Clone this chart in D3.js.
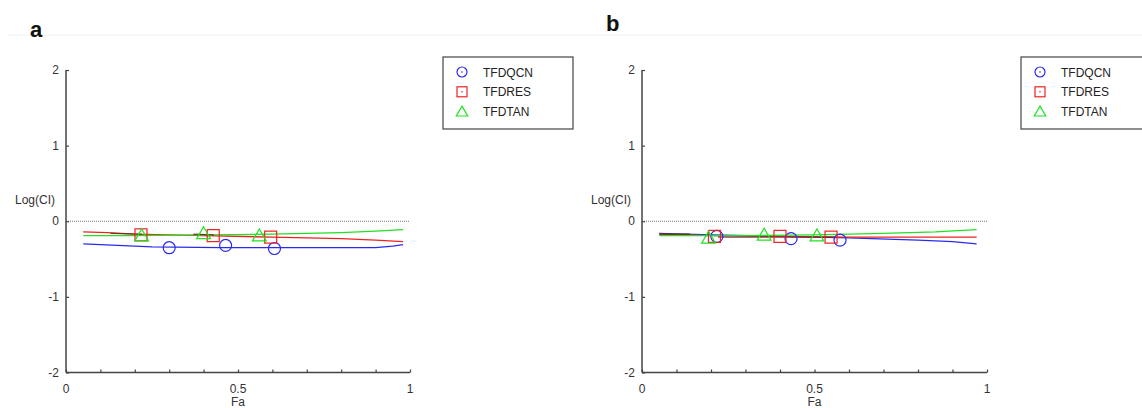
<!DOCTYPE html>
<html>
<head>
<meta charset="utf-8">
<script src="https://cdn.jsdelivr.net/npm/d3@7"></script>
<style>
  html, body { margin: 0; padding: 0; background: #fff; }
  svg { display: block; }
  text { font-family: "Liberation Sans", Arial, sans-serif; }
</style>
</head>
<body>
<svg id="chart" width="1142" height="408"></svg>
<script>
// ---- data (Fa vs log(CI)) ----
const seriesNames = ["TFDQCN", "TFDRES", "TFDTAN"];
const seriesColors = ["#2b2bf0", "#ee2222", "#22e022"];
const seriesShapes = ["circle", "square", "triangle"];

const xTicks = [0, 0.5, 1];
const yTicks = [-2, -1, 0, 1, 2];

// panel a: simulated curves
const aCurveQCN = [[0.05,-0.30],[0.10,-0.31],[0.25,-0.34],[0.45,-0.35],[0.70,-0.35],[0.90,-0.35],[0.95,-0.33],[0.98,-0.31]];
const aCurveRES = [[0.05,-0.14],[0.12,-0.15],[0.20,-0.17],[0.40,-0.19],[0.60,-0.21],[0.80,-0.23],[0.90,-0.25],[0.98,-0.27]];
const aCurveTAN = [[0.05,-0.19],[0.20,-0.19],[0.40,-0.18],[0.60,-0.17],[0.80,-0.15],[0.90,-0.13],[0.98,-0.11]];
// panel a: measured points
const aPointsQCN = [[0.30,-0.35],[0.464,-0.32],[0.606,-0.36]];
const aPointsRES = [[0.218,-0.18],[0.428,-0.19],[0.595,-0.21]];
const aPointsTAN = [[0.22,-0.19],[0.40,-0.16],[0.562,-0.19]];
// panel a: overlapping dark stretches
const aDark = [[[0.13,-0.16],[0.22,-0.17]], [[0.37,-0.17],[0.43,-0.18]]];

// panel b: simulated curves
const bCurveQCN = [[0.05,-0.16],[0.20,-0.18],[0.40,-0.20],[0.60,-0.22],[0.80,-0.25],[0.90,-0.27],[0.97,-0.30]];
const bCurveRES = [[0.05,-0.17],[0.20,-0.19],[0.40,-0.20],[0.60,-0.21],[0.97,-0.21]];
const bCurveTAN = [[0.05,-0.19],[0.30,-0.19],[0.50,-0.18],[0.70,-0.16],[0.85,-0.14],[0.97,-0.11]];
// panel b: measured points
const bPointsQCN = [[0.217,-0.20],[0.432,-0.23],[0.574,-0.25]];
const bPointsRES = [[0.21,-0.20],[0.40,-0.20],[0.548,-0.21]];
const bPointsTAN = [[0.193,-0.22],[0.354,-0.18],[0.507,-0.19]];
// panel b: overlapping dark stretches
const bDark = [[[0.05,-0.17],[0.14,-0.17]], [[0.22,-0.21],[0.56,-0.21]]];

const panels = [
  { label: "a", left: 66, right: 410, labelX: 30, labelY: 37, legendX: 443, legendW: 130,
    curves: [aCurveQCN, aCurveRES, aCurveTAN], points: [aPointsQCN, aPointsRES, aPointsTAN], dark: aDark },
  { label: "b", left: 642, right: 987, labelX: 606, labelY: 31, legendX: 1021, legendW: 130,
    curves: [bCurveQCN, bCurveRES, bCurveTAN], points: [bPointsQCN, bPointsRES, bPointsTAN], dark: bDark }
];

const svg = d3.select("#chart");
const plotTop = 70, plotBottom = 372.5;
const axisColor = "#444";
const textColor = "#333";

// faint frame line under the panel letters
svg.append("line").attr("x1", 8).attr("x2", 1142).attr("y1", 35).attr("y2", 35)
  .attr("stroke", "#f2f2f2").attr("stroke-width", 1);

function drawMarker(g, shape, color, cx, cy, r, dot) {
  if (shape === "circle") {
    g.append("circle").attr("cx", cx).attr("cy", cy).attr("r", r)
      .attr("fill", "none").attr("stroke", color).attr("stroke-width", 1.2);
  } else if (shape === "square") {
    g.append("rect").attr("x", cx - r).attr("y", cy - r).attr("width", 2 * r).attr("height", 2 * r)
      .attr("fill", "none").attr("stroke", color).attr("stroke-width", 1.2);
  } else {
    const h = r * 1.1;
    g.append("path")
      .attr("d", `M${cx},${cy - h}L${cx + r * 1.15},${cy + h * 0.8}L${cx - r * 1.15},${cy + h * 0.8}Z`)
      .attr("fill", "none").attr("stroke", color).attr("stroke-width", 1.2);
  }
  if (dot && shape !== "triangle") {
    g.append("circle").attr("cx", cx).attr("cy", cy).attr("r", 0.8).attr("fill", color);
  }
}

panels.forEach(p => {
  const g = svg.append("g");
  const x = d3.scaleLinear().domain([0, 1]).range([p.left, p.right]);
  const y = d3.scaleLinear().domain([-2, 2]).range([plotBottom, plotTop]);

  // panel letter
  svg.append("text").attr("x", p.labelX).attr("y", p.labelY)
    .attr("font-family", "'Open Sans', 'Liberation Sans', sans-serif")
    .attr("font-weight", "bold").attr("font-size", 22).attr("fill", "#111").text(p.label);

  // reference line at log(CI) = 0
  g.append("line").attr("x1", x(0)).attr("x2", x(1)).attr("y1", y(0)).attr("y2", y(0))
    .attr("stroke", "#777").attr("stroke-width", 1).attr("stroke-dasharray", "1,1");

  // x axis with inward ticks
  const xAxis = d3.axisTop(x).tickValues(d3.range(0, 1.0001, 0.1)).tickSize(3).tickFormat("");
  const xa = g.append("g").attr("transform", `translate(0,${y(-2)})`).call(xAxis);
  xa.select(".domain").attr("d", `M${x(0)},0H${x(1)}`).attr("stroke", axisColor).attr("stroke-width", 1.5);
  xa.selectAll(".tick line").attr("stroke", axisColor).attr("stroke-width", 1.2);
  g.selectAll(".xlab").data(xTicks).enter().append("text")
    .attr("x", d => x(d)).attr("y", plotBottom + 20).attr("text-anchor", "middle")
    .attr("font-size", 12).attr("fill", textColor).text(d => d);
  g.append("text").attr("x", x(0.5)).attr("y", plotBottom + 33).attr("text-anchor", "middle")
    .attr("font-size", 12).attr("fill", textColor).text("Fa");

  // y axis with inward ticks
  const yAxis = d3.axisRight(y).tickValues(yTicks).tickSize(3).tickFormat("");
  const ya = g.append("g").attr("transform", `translate(${x(0)},0)`).call(yAxis);
  ya.select(".domain").attr("d", `M0,${y(2)}V${y(-2)}`).attr("stroke", axisColor).attr("stroke-width", 1.5);
  ya.selectAll(".tick line").attr("stroke", axisColor).attr("stroke-width", 1.2);
  g.selectAll(".ylab").data(yTicks).enter().append("text")
    .attr("x", x(0) - 7).attr("y", d => y(d) + 4).attr("text-anchor", "end")
    .attr("font-size", 12).attr("fill", textColor).text(d => d);
  g.append("text").attr("x", x(0) - 11).attr("y", y(0) - 17).attr("text-anchor", "end")
    .attr("font-size", 12).attr("fill", textColor).text("Log(CI)");

  // curves
  const line = d3.line().x(d => x(d[0])).y(d => y(d[1]));
  p.curves.forEach((c, i) => {
    g.append("path").attr("d", line(c)).attr("fill", "none")
      .attr("stroke", seriesColors[i]).attr("stroke-width", 1.3);
  });
  p.dark.forEach(seg => {
    g.append("path").attr("d", line(seg)).attr("fill", "none")
      .attr("stroke", "#5a2a20").attr("stroke-width", 1.4).attr("stroke-opacity", 0.85);
  });

  // measured points
  p.points.forEach((pts, i) => {
    pts.forEach(d => drawMarker(g, seriesShapes[i], seriesColors[i], x(d[0]), y(d[1]), 6, false));
  });

  // legend
  const lg = g.append("g");
  lg.append("rect").attr("x", p.legendX).attr("y", 57).attr("width", p.legendW).attr("height", 72)
    .attr("fill", "#fff").attr("stroke", "#444").attr("stroke-width", 1.2);
  seriesNames.forEach((name, i) => {
    const cy = 72 + i * 19.8;
    drawMarker(lg, seriesShapes[i], seriesColors[i], p.legendX + 19, cy, 5, true);
    lg.append("text").attr("x", p.legendX + 40).attr("y", cy + 4.5)
      .attr("font-size", 12).attr("fill", "#222").text(name);
  });
});
</script>
</body>
</html>
